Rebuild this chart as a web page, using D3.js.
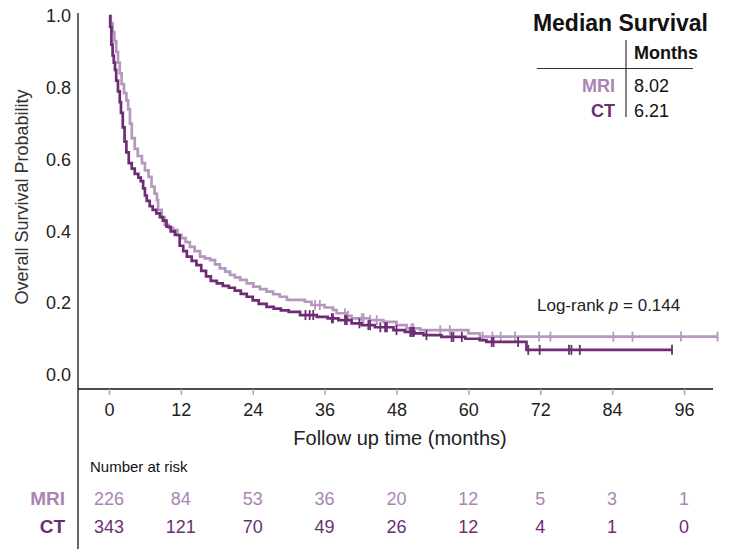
<!DOCTYPE html>
<html>
<head>
<meta charset="utf-8">
<script src="https://cdn.jsdelivr.net/npm/d3@7"></script>
<style>
body { margin: 0; background: #fff; }
text { font-family: "Liberation Sans", Arial, sans-serif; }
</style>
</head>
<body>
<main></main>
<script>
// Kaplan-Meier steps (months, survival after the step)
const mriTime = [0, 0.3, 0.6, 0.9, 1.2, 1.5, 1.8, 2.1, 2.5, 2.9, 3.2, 3.5, 3.8, 4.3, 4.8, 5.5, 6.0, 6.6, 7.1, 7.6, 8.0, 8.2, 8.8, 9.3, 10.0, 10.7, 11.4, 12.1, 12.8, 13.5, 14.3, 15.2, 16.0, 16.9, 17.7, 18.5, 19.4, 20.2, 21.0, 21.9, 23.0, 24.1, 25.2, 26.3, 27.4, 28.5, 29.7, 32.7, 33.8, 36.0, 37.4, 38.0, 39.5, 40.5, 43.5, 45.8, 48.0, 49.7, 52.0, 60.0, 61.9];
const mriSurv = [1.0, 0.98, 0.955, 0.93, 0.9, 0.87, 0.84, 0.81, 0.785, 0.765, 0.74, 0.7, 0.66, 0.63, 0.61, 0.59, 0.57, 0.552, 0.525, 0.505, 0.487, 0.46, 0.44, 0.418, 0.41, 0.404, 0.39, 0.381, 0.37, 0.357, 0.345, 0.33, 0.325, 0.32, 0.308, 0.297, 0.288, 0.279, 0.272, 0.265, 0.255, 0.246, 0.239, 0.232, 0.225, 0.218, 0.209, 0.204, 0.195, 0.188, 0.181, 0.172, 0.165, 0.158, 0.153, 0.148, 0.139, 0.13, 0.125, 0.116, 0.107];
const mriCensor = [34.4, 35.2, 39.4, 39.9, 42.2, 42.5, 43.6, 44.7, 50.5, 50.8, 55.3, 56.9, 62.4, 64.0, 65.4, 67.8, 71.8, 73.7, 84.2, 87.4, 95.5, 101.6];

const ctTime = [0, 0.2, 0.4, 0.6, 0.8, 1.0, 1.2, 1.5, 1.8, 2.0, 2.3, 2.6, 2.9, 3.3, 3.8, 4.3, 4.9, 5.3, 5.7, 6.0, 6.3, 6.8, 7.3, 7.9, 8.5, 9.0, 9.6, 10.3, 11.0, 11.8, 12.4, 13.0, 13.8, 14.6, 15.4, 16.2, 17.0, 18.0, 19.0, 20.0, 21.0, 22.0, 23.0, 24.0, 25.0, 26.3, 27.5, 28.7, 30.0, 31.9, 34.7, 36.5, 38.3, 40.5, 42.2, 44.4, 47.5, 49.4, 51.0, 52.5, 55.5, 59.5, 61.9, 63.0, 69.7];
const ctSurv = [1.0, 0.97, 0.92, 0.89, 0.87, 0.85, 0.82, 0.79, 0.76, 0.73, 0.69, 0.65, 0.62, 0.59, 0.575, 0.56, 0.55, 0.54, 0.52, 0.5, 0.485, 0.47, 0.46, 0.45, 0.44, 0.43, 0.413, 0.4, 0.39, 0.36, 0.345, 0.33, 0.318, 0.306, 0.29, 0.275, 0.262, 0.255, 0.248, 0.243, 0.235, 0.226, 0.218, 0.208, 0.198, 0.19, 0.185, 0.18, 0.176, 0.167, 0.162, 0.158, 0.153, 0.144, 0.139, 0.133, 0.125, 0.12, 0.116, 0.111, 0.106, 0.101, 0.097, 0.092, 0.07];
const ctCensor = [32.8, 33.5, 34.1, 37.2, 37.4, 39.4, 39.7, 41.8, 43.3, 43.6, 45.3, 46.1, 46.4, 48.0, 50.3, 50.6, 50.9, 53.0, 57.2, 57.5, 58.9, 63.9, 64.2, 68.3, 70.0, 71.9, 76.8, 77.2, 78.6, 94.0];

const xTicks = [0, 12, 24, 36, 48, 60, 72, 84, 96];
const yTicks = [0, 0.2, 0.4, 0.6, 0.8, 1.0];
const riskMri = [226, 84, 53, 36, 20, 12, 5, 3, 1];
const riskCt = [343, 121, 70, 49, 26, 12, 4, 1, 0];
const medians = ['8.02', '6.21'];
const pValue = '0.144';

const mriColor = '#b598bd';
const ctColor = '#6d2c74';

const w = 730;
const h = 549;
const svg = d3.select('main').append('svg').attr('width', w).attr('height', h);
const x = d3.scaleLinear().domain([0, 96]).range([109, 684]);
const y = d3.scaleLinear().domain([0, 1]).range([375, 16]);

const groups = [
    { name: 'MRI', time: mriTime, surv: mriSurv, censor: mriCensor, color: mriColor, text: '#a985b2', risk: riskMri },
    { name: 'CT', time: ctTime, surv: ctSurv, censor: ctCensor, color: ctColor, text: '#6a2f72', risk: riskCt }
];
const survAt = (g, t) => g.surv[d3.bisectRight(g.time, t) - 1];

// axes
svg.append('line')
    .attr('x1', 78).attr('x2', 78).attr('y1', 13).attr('y2', h)
    .attr('stroke', '#111').attr('stroke-width', 1.3);
svg.append('line')
    .attr('x1', 78).attr('x2', 713).attr('y1', 389).attr('y2', 389)
    .attr('stroke', '#111').attr('stroke-width', 1.3);

const yAxis = svg.append('g')
    .attr('transform', 'translate(78,0)')
    .call(d3.axisLeft(y).tickValues(yTicks).tickSize(0).tickPadding(7).tickFormat(d3.format('.1f')));
yAxis.select('.domain').remove();
yAxis.selectAll('text').attr('font-size', 18).attr('fill', '#222').attr('font-family', '"Liberation Sans", Arial, sans-serif');

const xAxis = svg.append('g')
    .attr('transform', 'translate(0,389)')
    .call(d3.axisBottom(x).tickValues(xTicks).tickSize(6).tickPadding(8));
xAxis.select('.domain').remove();
xAxis.selectAll('line').attr('stroke', '#aaa').attr('stroke-width', 1.5);
xAxis.selectAll('text').attr('font-size', 18).attr('fill', '#222').attr('font-family', '"Liberation Sans", Arial, sans-serif');

svg.append('text')
    .attr('x', 400).attr('y', 445)
    .attr('text-anchor', 'middle')
    .attr('font-size', 20).attr('fill', '#222')
    .text('Follow up time (months)');
svg.append('text')
    .attr('transform', 'translate(28,197) rotate(-90)')
    .attr('text-anchor', 'middle')
    .attr('font-size', 18).attr('fill', '#333')
    .text('Overall Survival Probability');

// curves
const line = d3.line().x(d => x(d[0])).y(d => y(d[1])).curve(d3.curveStepAfter);
groups.forEach(g => {
    const pts = g.time.map((t, i) => [t, g.surv[i]]);
    pts.push([d3.max(g.censor), g.surv[g.surv.length - 1]]);
    svg.append('path')
        .datum(pts)
        .attr('fill', 'none')
        .attr('stroke', g.color)
        .attr('stroke-width', 2.7)
        .attr('d', line);
    svg.append('g').selectAll('line')
        .data(g.censor)
        .enter()
        .append('line')
        .attr('x1', d => x(d)).attr('x2', d => x(d))
        .attr('y1', d => y(survAt(g, d)) - 5)
        .attr('y2', d => y(survAt(g, d)) + 5)
        .attr('stroke', g.color)
        .attr('stroke-width', 1.8);
});

// log-rank
const lr = svg.append('text')
    .attr('x', 537).attr('y', 311)
    .attr('font-size', 17).attr('fill', '#222');
lr.append('tspan').text('Log-rank ');
lr.append('tspan').attr('font-style', 'italic').text('p');
lr.append('tspan').text(' = ' + pValue);

// median survival table
svg.append('text')
    .attr('x', 708).attr('y', 31)
    .attr('text-anchor', 'end')
    .attr('font-size', 23).attr('font-weight', 'bold').attr('fill', '#111')
    .text('Median Survival');
svg.append('text')
    .attr('x', 634).attr('y', 59)
    .attr('font-size', 18).attr('font-weight', 'bold').attr('fill', '#111')
    .text('Months');
svg.append('line')
    .attr('x1', 537).attr('x2', 693).attr('y1', 68.5).attr('y2', 68.5)
    .attr('stroke', '#333').attr('stroke-width', 1.2);
svg.append('line')
    .attr('x1', 626).attr('x2', 626).attr('y1', 40).attr('y2', 117)
    .attr('stroke', '#333').attr('stroke-width', 1.2);
const med = svg.append('g').selectAll('g')
    .data(groups)
    .enter()
    .append('g')
    .attr('transform', (d, i) => `translate(0,${91.5 + i * 25})`);
med.append('text')
    .attr('x', 615)
    .attr('text-anchor', 'end')
    .attr('font-size', 18).attr('font-weight', 'bold')
    .attr('fill', d => d.text)
    .text(d => d.name);
med.append('text')
    .attr('x', 634)
    .attr('font-size', 18).attr('fill', '#111')
    .text((d, i) => medians[i]);

// number at risk
svg.append('text')
    .attr('x', 90).attr('y', 472)
    .attr('font-size', 15).attr('fill', '#111')
    .text('Number at risk');
const risk = svg.append('g').selectAll('g')
    .data(groups)
    .enter()
    .append('g')
    .attr('transform', (d, i) => `translate(0,${505 + i * 28})`);
risk.append('text')
    .attr('x', 65)
    .attr('text-anchor', 'end')
    .attr('font-size', 19).attr('font-weight', 'bold')
    .attr('fill', d => d.text)
    .text(d => d.name);
risk.selectAll('.n')
    .data(d => d.risk.map(v => ({ v, c: d.text })))
    .enter()
    .append('text')
    .attr('class', 'n')
    .attr('x', (d, i) => x(xTicks[i]))
    .attr('text-anchor', 'middle')
    .attr('font-size', 18)
    .attr('fill', d => d.c)
    .text(d => d.v);
</script>
</body>
</html>
